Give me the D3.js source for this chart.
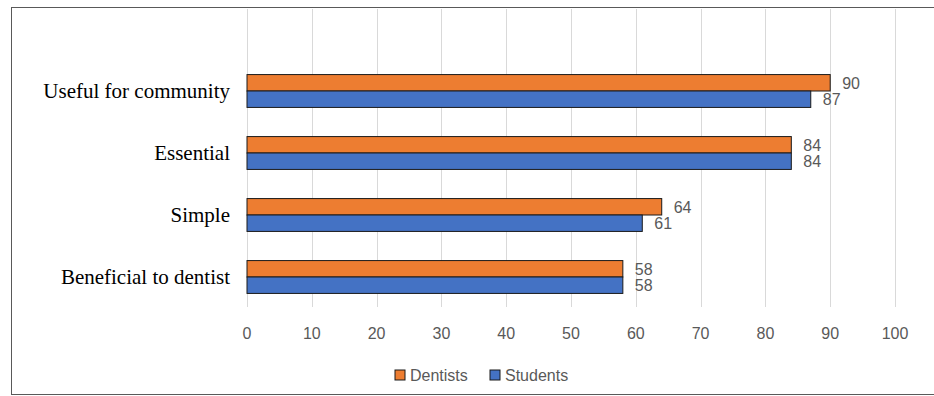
<!DOCTYPE html>
<html>
<head>
<meta charset="utf-8">
<script src="https://cdn.jsdelivr.net/npm/d3@7"></script>
<style>
  body { margin: 0; background: #fff; }
  svg { display: block; }
</style>
</head>
<body>
<svg id="chart"></svg>
<script>
// data
const categories = ['Useful for community', 'Essential', 'Simple', 'Beneficial to dentist'];
const seriesNames = ['Dentists', 'Students'];
const dentists = [90, 84, 64, 58];
const students = [87, 84, 61, 58];
const xTicks = [0, 10, 20, 30, 40, 50, 60, 70, 80, 90, 100];
const colors = ['#ED7D31', '#4472C4'];

const width = 934, height = 396;
const svg = d3.select('#chart').attr('width', width).attr('height', height);

// frame
svg.append('rect')
    .attr('x', 11.5).attr('y', 7.5)
    .attr('width', 940).attr('height', 387)
    .attr('fill', '#fff')
    .attr('stroke', '#595959');

const x = d3.scaleLinear().domain([0, 100]).range([247, 895]);
const y = d3.scaleBand().domain(categories).range([60, 308]).paddingInner(0.47).paddingOuter(0.235);

// gridlines
svg.append('g').selectAll('line')
    .data(xTicks)
    .join('line')
    .attr('x1', d => Math.round(x(d)) + 0.5)
    .attr('x2', d => Math.round(x(d)) + 0.5)
    .attr('y1', 9)
    .attr('y2', 307)
    .attr('stroke', '#d9d9d9')
    .attr('stroke-width', 1);

// tick labels
svg.append('g').selectAll('text')
    .data(xTicks)
    .join('text')
    .attr('x', d => x(d))
    .attr('y', 339)
    .attr('text-anchor', 'middle')
    .attr('font-family', 'Liberation Sans, Arial, sans-serif')
    .attr('font-size', 16)
    .attr('fill', '#595959')
    .text(d => d);

// category labels
svg.append('g').selectAll('text')
    .data(categories)
    .join('text')
    .attr('x', 230)
    .attr('y', d => y(d) + y.bandwidth() / 2 + 7)
    .attr('text-anchor', 'end')
    .attr('font-family', 'Liberation Serif, Times New Roman, serif')
    .attr('font-size', 21)
    .attr('fill', '#000')
    .text(d => d);

const sub = d3.scaleBand().domain(seriesNames).range([0, y.bandwidth()]);

const rows = [];
categories.forEach((c, i) => {
    rows.push({ cat: c, series: 'Dentists', value: dentists[i], color: colors[0] });
    rows.push({ cat: c, series: 'Students', value: students[i], color: colors[1] });
});

// bars
svg.append('g').selectAll('rect')
    .data(rows)
    .join('rect')
    .attr('x', x(0))
    .attr('y', d => y(d.cat) + sub(d.series))
    .attr('width', d => x(d.value) - x(0))
    .attr('height', sub.bandwidth())
    .attr('fill', d => d.color)
    .attr('stroke', '#1a1a1a')
    .attr('stroke-width', 1);

// value labels
svg.append('g').selectAll('text')
    .data(rows)
    .join('text')
    .attr('x', d => x(d.value) + 12)
    .attr('y', d => y(d.cat) + sub(d.series) + sub.bandwidth() / 2 + 6)
    .attr('font-family', 'Liberation Sans, Arial, sans-serif')
    .attr('font-size', 16)
    .attr('fill', '#595959')
    .text(d => d.value);

// legend
const legend = svg.append('g').selectAll('g')
    .data(seriesNames)
    .join('g')
    .attr('transform', (d, i) => `translate(${395 + i * 95},370)`);

legend.append('rect')
    .attr('width', 10).attr('height', 10)
    .attr('fill', (d, i) => colors[i])
    .attr('stroke', '#1a1a1a');

legend.append('text')
    .attr('x', 15)
    .attr('y', 11)
    .attr('font-family', 'Liberation Sans, Arial, sans-serif')
    .attr('font-size', 16)
    .attr('fill', '#595959')
    .text(d => d);
</script>
</body>
</html>
